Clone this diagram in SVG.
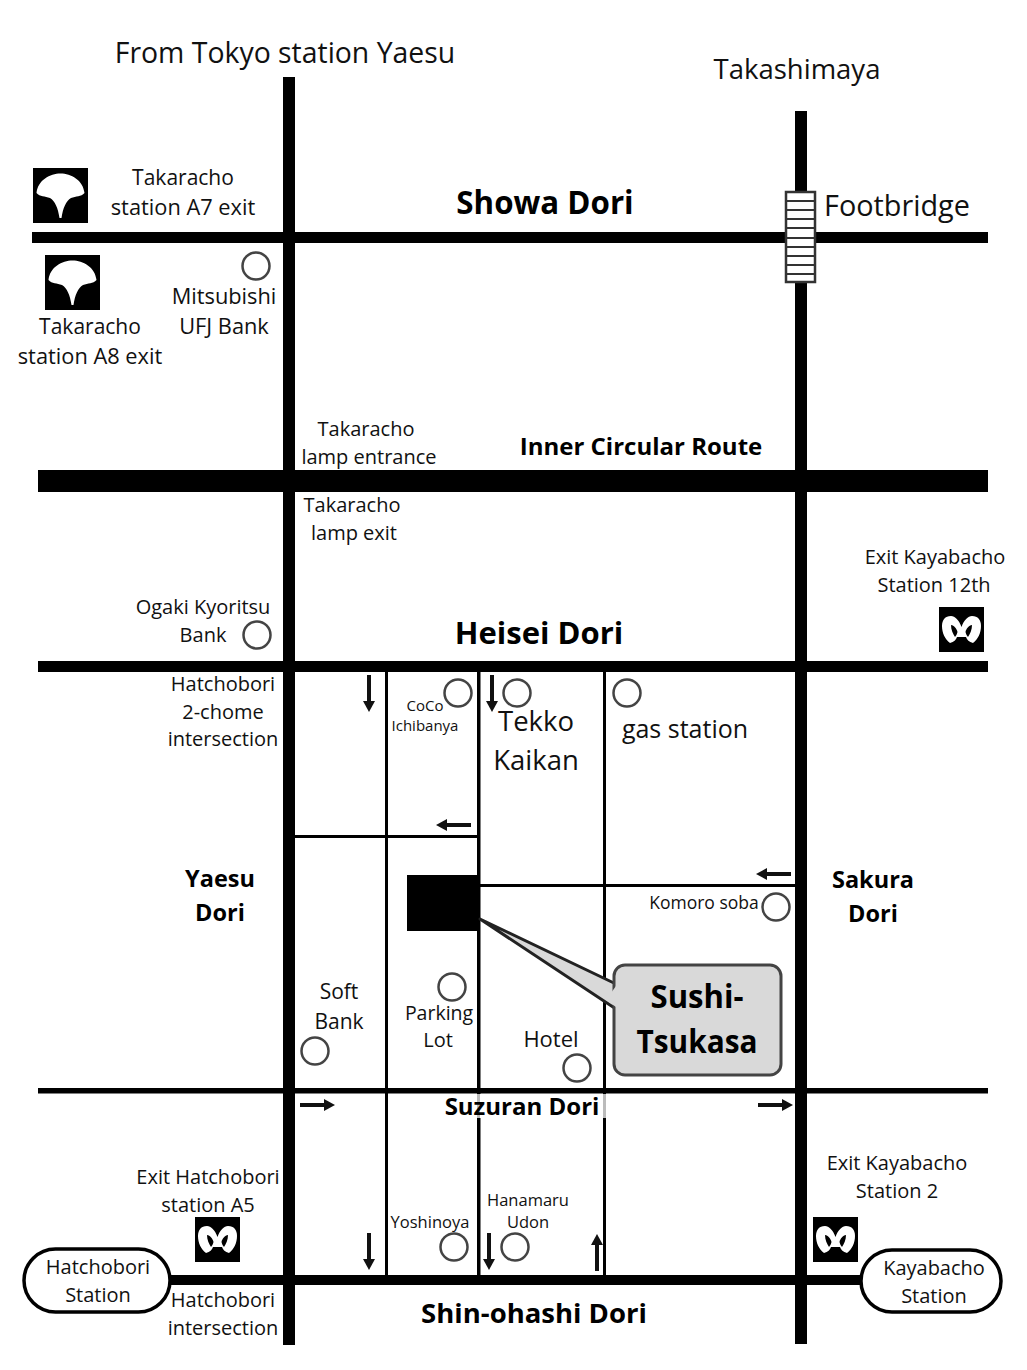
<svg xmlns="http://www.w3.org/2000/svg" width="1027" height="1370" viewBox="0 0 1027 1370">
<style>
text{font-family:"Open Sans","Noto Sans","Liberation Sans",sans-serif;fill:#111;text-anchor:middle}
.s{font-size:21px}.w{font-size:21.800px}.m{font-size:20px}.xs{font-size:15px}
.b{font-weight:700;fill:#000}
.poi{fill:none;stroke:#444;stroke-width:2.500}
.road{fill:#000}
.stn{fill:#fff;stroke:#000;stroke-width:3.500}
</style>
<defs>
<g id="toei"><rect width="55" height="55" fill="#000"/><path d="M3.500 25C5 12 17 5.500 27.500 5.500C38 5.500 50 12 51.500 25C48 29 43 28 38 30C33 33 30 40 28.500 50H26.500C25 40 22 33 17 30C12 28 7 29 3.500 25Z" fill="#fff"/></g>
<g id="metro"><rect width="45" height="45" fill="#000"/><path d="M12 9C16 9 20 13 22.500 20C25 13 29 9 33 9C39 9 42 13 42 19C42 26 39 32 34 36C30 35 28 33 27 30H18C17 33 15 35 11 36C6 32 3 26 3 19C3 13 6 9 12 9Z" fill="#fff"/><path d="M12 18C15 18 18 22 18.500 25C18 27 17 29 16 30C14 27 12 23 12 18ZM33 18C30 18 27 22 26.500 25C27 27 28 29 29 30C31 27 33 23 33 18Z" fill="#000"/></g>
<marker id="ah" markerUnits="userSpaceOnUse" markerWidth="11" markerHeight="12" refX="0" refY="6" orient="auto"><path d="M0 0L11 6L0 12Z" fill="#111"/></marker>
</defs>
<rect width="1027" height="1370" fill="#fff"/>
<g id="connectors">
<rect class="road" x="283" y="77" width="12" height="1268"/>
<rect class="road" x="795" y="111" width="12" height="1233"/>
<rect class="road" x="32" y="232" width="956" height="11"/>
<rect class="road" x="38" y="470" width="950" height="22"/>
<rect class="road" x="38" y="661" width="950" height="11"/>
<rect class="road" x="38" y="1088" width="950" height="5.500"/>
<rect class="road" x="168" y="1275" width="694" height="10"/>
<rect class="road" x="385" y="672" width="3" height="603"/>
<rect class="road" x="477" y="672" width="3.500" height="603"/>
<rect class="road" x="603" y="672" width="3" height="603"/>
<rect class="road" x="295" y="835" width="183" height="3"/>
<rect class="road" x="480" y="884" width="315" height="3"/>
<rect x="447" y="1094" width="156" height="24" fill="#fff"/>
<rect x="477" y="1094" width="3" height="24" fill="#bbb"/>
<rect x="603" y="1094" width="3" height="24" fill="#bbb"/>
<g stroke="#111" stroke-width="4" fill="none" marker-end="url(#ah)">
<path d="M369 675V701"/><path d="M492 675V701"/><path d="M471 825H447"/><path d="M791 874H767"/>
<path d="M300 1105H324"/><path d="M758 1105H782"/><path d="M369 1233V1259"/><path d="M489 1233V1259"/><path d="M597 1271V1245"/>
</g>
</g>
<g id="footbridge">
<rect x="786" y="192" width="29" height="90" fill="#fff" stroke="#333" stroke-width="2.500"/>
<path d="M786 201H815M786 210H815M786 219H815M786 228H815M786 238H815M786 247H815M786 256H815M786 265H815M786 274H815" stroke="#333" stroke-width="2"/>
</g>
<g id="target-building"><rect x="407" y="875" width="72" height="56" fill="#000"/></g>
<g id="sushi-tsukasa">
<path d="M480 919L616 984V1009Z" fill="#d9d9d9" stroke="#222" stroke-width="3" stroke-linejoin="round"/>
<rect x="614" y="965" width="167" height="110" rx="11" fill="#d9d9d9" stroke="#444" stroke-width="3"/>
<path d="M616 986V1007L606 1000Z" fill="#d9d9d9"/>
<text class="b" x="697" y="1008" font-size="33" textLength="93" lengthAdjust="spacingAndGlyphs">Sushi-</text>
<text class="b" x="697" y="1053" font-size="33" textLength="121" lengthAdjust="spacingAndGlyphs">Tsukasa</text>
</g>
<g id="title-tokyo"><text x="285" y="63" font-size="28.400">From Tokyo station Yaesu</text></g>
<g id="title-takashimaya"><text x="797" y="79" font-size="27.500">Takashimaya</text></g>
<g id="showa"><text class="b" x="545" y="214" font-size="31.300">Showa Dori</text></g>
<g id="footbridge-label"><text x="897" y="216" font-size="28.800">Footbridge</text></g>
<g id="inner"><text class="b" x="641" y="455" font-size="24">Inner Circular Route</text></g>
<g id="heisei"><text class="b" x="539" y="644" font-size="31">Heisei Dori</text></g>
<g id="yaesu"><text class="b" x="220" y="887" font-size="23.500">Yaesu</text><text class="b" x="220" y="921" font-size="23.500">Dori</text></g>
<g id="sakura"><text class="b" x="873" y="888" font-size="23.500">Sakura</text><text class="b" x="873" y="922" font-size="23.500">Dori</text></g>
<g id="suzuran"><text class="b" x="522" y="1115" font-size="24">Suzuran Dori</text></g>
<g id="shin-ohashi"><text class="b" x="534" y="1323" font-size="27.500">Shin-ohashi Dori</text></g>
<g id="a7"><use href="#toei" x="33" y="168"/><text class="s" x="183" y="185">Takaracho</text><text class="w" x="183" y="215">station A7 exit</text></g>
<g id="a8"><use href="#toei" x="45" y="255"/><text class="s" x="90" y="334">Takaracho</text><text class="w" x="90" y="364">station A8 exit</text></g>
<g id="mufj"><circle class="poi" cx="256" cy="266" r="13.500"/><text class="w" x="224" y="304">Mitsubishi</text><text class="w" x="224" y="334">UFJ Bank</text></g>
<g id="lamp-in"><text class="m" x="366" y="436">Takaracho</text><text class="m" x="369" y="464">lamp entrance</text></g>
<g id="lamp-out"><text class="m" x="352" y="512">Takaracho</text><text class="m" x="354" y="540">lamp exit</text></g>
<g id="ogaki"><circle class="poi" cx="257" cy="635" r="13.500"/><text class="m" x="203" y="614">Ogaki Kyoritsu</text><text class="m" x="203" y="642">Bank</text></g>
<g id="exit12"><use href="#metro" x="939" y="607"/><text class="m" x="935" y="564">Exit Kayabacho</text><text class="m" x="934" y="592">Station 12th</text></g>
<g id="hatchobori2"><text class="m" x="223" y="691">Hatchobori</text><text class="m" x="223" y="719">2-chome</text><text class="m" x="223" y="746">intersection</text></g>
<g id="coco"><circle class="poi" cx="458" cy="693" r="13.500"/><text class="xs" x="425" y="711">CoCo</text><text class="xs" x="425" y="731">Ichibanya</text></g>
<g id="tekko"><circle class="poi" cx="517" cy="693" r="13.500"/><text x="536" y="731" font-size="27.500">Tekko</text><text x="536" y="770" font-size="27.500">Kaikan</text></g>
<g id="gas"><circle class="poi" cx="627" cy="693" r="13.500"/><text x="685" y="738" font-size="25">gas station</text></g>
<g id="komoro"><circle class="poi" cx="776" cy="907" r="13.500"/><text x="704" y="909" font-size="17.500">Komoro soba</text></g>
<g id="softbank"><circle class="poi" cx="315" cy="1051" r="13.500"/><text class="s" x="339" y="999">Soft</text><text class="s" x="339" y="1029">Bank</text></g>
<g id="parking"><circle class="poi" cx="452" cy="987" r="13.500"/><text class="m" x="439" y="1020" style="font-size:19.500px">Parking</text><text class="m" x="438" y="1047">Lot</text></g>
<g id="hotel"><circle class="poi" cx="577" cy="1068" r="13.500"/><text x="551" y="1047" font-size="22">Hotel</text></g>
<g id="a5"><use href="#metro" x="195" y="1217"/><text class="m" x="208" y="1184">Exit Hatchobori</text><text class="m" x="208" y="1212">station A5</text></g>
<g id="exit2"><use href="#metro" x="813" y="1217"/><text class="m" x="897" y="1170">Exit Kayabacho</text><text class="m" x="897" y="1198">Station 2</text></g>
<g id="yoshinoya"><circle class="poi" cx="454" cy="1247" r="13.500"/><text x="430" y="1228" font-size="16.500">Yoshinoya</text></g>
<g id="hanamaru"><circle class="poi" cx="515" cy="1247" r="13.500"/><text x="528" y="1206" font-size="16.500">Hanamaru</text><text x="528" y="1228" font-size="16.500">Udon</text></g>
<g id="hatchobori-station"><rect class="stn" x="24" y="1249" width="146" height="63" rx="31.500"/><text class="m" x="98" y="1274">Hatchobori</text><text class="m" x="98" y="1302">Station</text></g>
<g id="kayabacho-station"><rect class="stn" x="861" y="1250" width="140" height="62" rx="31"/><text class="m" x="934" y="1275">Kayabacho</text><text class="m" x="934" y="1303">Station</text></g>
<g id="hatchobori-int"><text class="m" x="223" y="1307">Hatchobori</text><text class="m" x="223" y="1335">intersection</text></g>
</svg>
